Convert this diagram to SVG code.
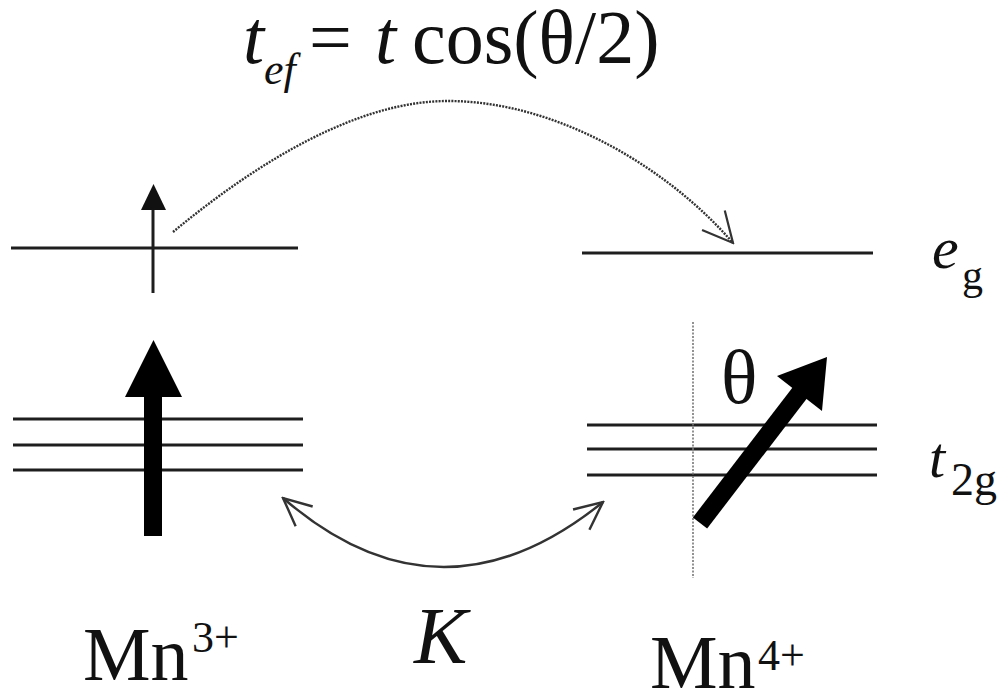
<svg xmlns="http://www.w3.org/2000/svg" width="1005" height="692" viewBox="0 0 1005 692">
<style>
.lvl{stroke:#1e1e1e;stroke-width:3;fill:none}
.t{font-family:"Liberation Serif","Times New Roman",serif;fill:#111}
.i{font-style:italic}
.dot{stroke:#333;stroke-width:2.4;stroke-dasharray:2,1.2;fill:none}
</style>
<defs>
<marker id="open2" viewBox="-34 -20 36 40" markerWidth="36" markerHeight="40" refX="0" refY="0" orient="auto" markerUnits="userSpaceOnUse">
<path d="M-30,-15 L0,0 L-30,15" fill="none" stroke="#333" stroke-width="2.2"/>
</marker>
<marker id="openK" viewBox="-34 -20 36 40" markerWidth="36" markerHeight="40" refX="0" refY="0" orient="auto-start-reverse" markerUnits="userSpaceOnUse">
<path d="M-28,-13 L0,0 L-28,13" fill="none" stroke="#333" stroke-width="2.4"/>
</marker>
</defs>
<rect width="1005" height="692" fill="#fff"/>

<g id="mn3">
<line class="lvl" x1="11" y1="248" x2="298" y2="248"/>
<line class="lvl" x1="153" y1="208" x2="153" y2="293"/>
<polygon points="141,210 166,210 153.5,184" fill="#111"/>
<line class="lvl" x1="13" y1="419" x2="303" y2="419"/>
<line class="lvl" x1="13" y1="445" x2="303" y2="445"/>
<line class="lvl" x1="13" y1="470" x2="303" y2="470"/>
<rect x="144" y="394" width="18" height="142" fill="#000"/>
<polygon points="125,397 182,397 153.5,340" fill="#000"/>
<text class="t" x="83" y="680" font-size="76">Mn<tspan x="192" y="652" font-size="44">3+</tspan></text>
</g>

<g id="mn4">
<line class="lvl" x1="582" y1="253" x2="873" y2="253"/>
<line class="lvl" x1="587" y1="425" x2="877" y2="425"/>
<line class="lvl" x1="587" y1="449" x2="877" y2="449"/>
<line class="lvl" x1="587" y1="475" x2="877" y2="475"/>
<line x1="693" y1="322" x2="693" y2="578" stroke="#777" stroke-width="1.6" stroke-dasharray="2,1.5"/>
<text class="t" x="721" y="403" font-size="76">θ</text>
<line x1="700" y1="523" x2="802" y2="390" stroke="#000" stroke-width="18"/>
<polygon points="827,357 822,411 777,376" fill="#000"/>
<text class="t" x="650" y="688" font-size="76">Mn<tspan x="758" y="670" font-size="44">4+</tspan></text>
</g>

<g id="labels">
<text class="t i" x="932" y="268" font-size="60">e<tspan x="962" y="289" font-size="42" font-style="normal">g</tspan></text>
<text class="t i" x="929" y="477" font-size="58">t<tspan x="951" y="495" font-size="46" font-style="normal">2g</tspan></text>
<text class="t" x="243" y="63" font-size="76"><tspan class="i">t</tspan><tspan class="i" x="264" y="84" font-size="44">ef</tspan><tspan x="309" y="63">=</tspan><tspan class="i" x="375" y="63">t</tspan><tspan x="412" y="63">cos(θ/2)</tspan></text>
<text class="t i" x="414" y="663" font-size="80">K</text>
</g>

<g id="connectors">
<path class="dot" d="M173,232 C260,160 360,100 450,101 C560,102 670,170 733,243" marker-end="url(#open2)"/>
<path d="M283,498 Q440,634 603,502" fill="none" stroke="#333" stroke-width="2.4" marker-start="url(#openK)" marker-end="url(#openK)"/>
</g>
</svg>
